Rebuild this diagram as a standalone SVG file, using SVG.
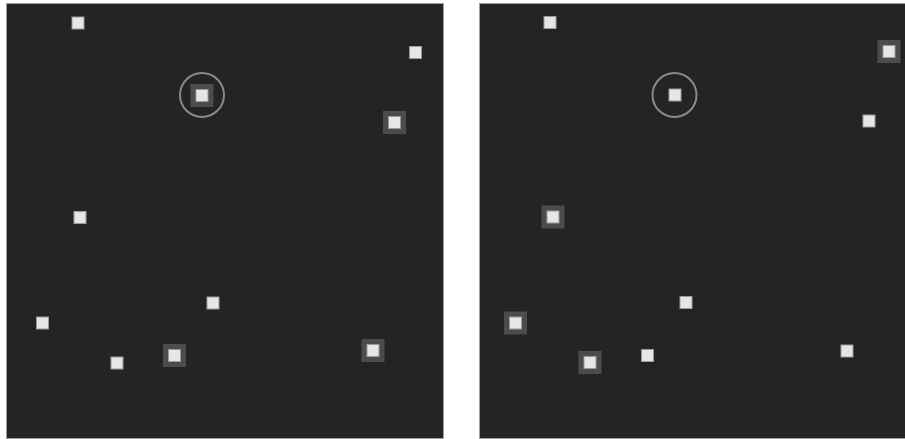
<svg xmlns="http://www.w3.org/2000/svg" width="905" height="439" viewBox="0 0 905 439">
<style>
.bg{fill:#ffffff}
.panel{fill:#242424;stroke:#a0a0a0;stroke-width:1}
.pt{fill:#e6e6e6;stroke:#9a9a9a;stroke-width:1}
.hl{fill:#4c4c4c}
.ring{fill:none;stroke:#8a8a8a;stroke-width:2}
</style>
<defs>
<rect id="sq" x="-6" y="-6" width="12" height="12" class="pt"/>
<rect id="hb" x="-11.5" y="-11.5" width="23" height="23" class="hl"/>
</defs>
<rect class="bg" x="0" y="0" width="905" height="439"/>
<g id="panel-left">
<rect class="panel" x="6.5" y="3.5" width="437" height="435"/>
</g>
<g id="panel-right">
<rect class="panel" x="479.5" y="3.5" width="430" height="435"/>
</g>
<g id="left-nodes">
<g id="L1"><use href="#sq" x="78" y="23"/></g>
<g id="L2"><use href="#sq" x="415.5" y="52.5"/></g>
<g id="L3"><use href="#hb" x="202" y="95.5"/><use href="#sq" x="202" y="95.5"/><circle class="ring" cx="202" cy="95" r="22"/></g>
<g id="L4"><use href="#hb" x="394.5" y="122.5"/><use href="#sq" x="394.5" y="122.5"/></g>
<g id="L5"><use href="#sq" x="80" y="217.5"/></g>
<g id="L6"><use href="#sq" x="213" y="303"/></g>
<g id="L7"><use href="#sq" x="42.5" y="323"/></g>
<g id="L8"><use href="#sq" x="117" y="363"/></g>
<g id="L9"><use href="#hb" x="174.5" y="355.5"/><use href="#sq" x="174.5" y="355.5"/></g>
<g id="L10"><use href="#hb" x="373" y="350.5"/><use href="#sq" x="373" y="350.5"/></g>
</g>
<g id="right-nodes">
<g id="R1"><use href="#sq" x="550" y="22.5"/></g>
<g id="R2"><use href="#hb" x="889" y="51.5"/><use href="#sq" x="889" y="51.5"/></g>
<g id="R3"><use href="#sq" x="675" y="95"/><circle class="ring" cx="674.5" cy="95" r="22"/></g>
<g id="R4"><use href="#sq" x="869" y="121"/></g>
<g id="R5"><use href="#hb" x="553" y="217"/><use href="#sq" x="553" y="217"/></g>
<g id="R6"><use href="#sq" x="686" y="302.5"/></g>
<g id="R7"><use href="#hb" x="515.5" y="323"/><use href="#sq" x="515.5" y="323"/></g>
<g id="R8"><use href="#hb" x="590" y="362.5"/><use href="#sq" x="590" y="362.5"/></g>
<g id="R9"><use href="#sq" x="647.5" y="355.5"/></g>
<g id="R10"><use href="#sq" x="847" y="351"/></g>
</g>
<g id="connectors"/>
</svg>
